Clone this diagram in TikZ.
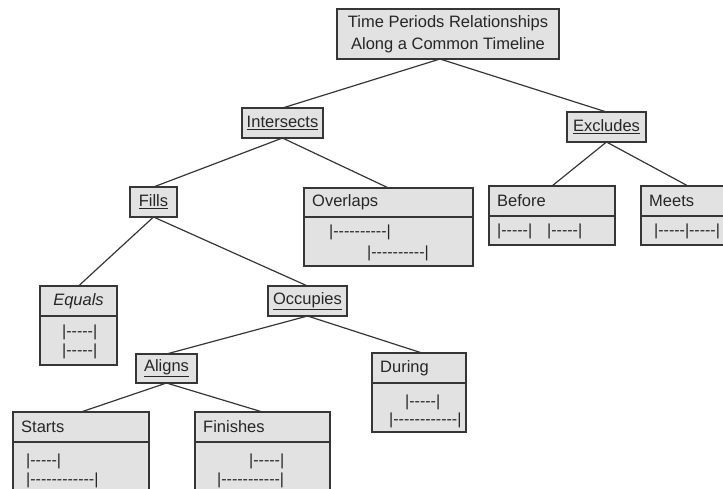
\documentclass[tikz,border=0pt]{standalone}
\usepackage{fontspec}
\setmainfont{Liberation Sans}
\newfontfamily\tlfont{Liberation Sans}[Ligatures=TeXOff]
\definecolor{boxfill}{HTML}{E2E2E2}
\definecolor{ink}{HTML}{262626}
\definecolor{edge}{HTML}{363636}
\tikzset{
  box/.style={draw=edge, fill=boxfill, line width=1.4pt, inner sep=0pt, outer sep=0pt, text=ink},
  conn/.style={draw=edge, line width=1.2pt},
  ttl/.style={anchor=west, inner sep=0pt, text=ink, font=\fontsize{16.5}{19}\selectfont},
  tl/.style={anchor=west, inner sep=0pt, text=ink, font=\tlfont\fontsize{16}{19}\selectfont},
  lbl/.style={inner sep=0pt, text=ink, font=\fontsize{16.5}{19}\selectfont}
}
\begin{document}
\begin{tikzpicture}[x=1pt,y=-1pt]
\useasboundingbox (0,0) rectangle (723,488);
\clip (0,0) rectangle (723,488);
% simple boxes
\node[box, minimum width=222pt, minimum height=50pt] (root) at (448,34) {};
\node[lbl, align=center, font=\fontsize{16.5}{22}\selectfont] (roott) at (448,34) {Time Periods Relationships\\Along a Common Timeline};
\node[box, minimum width=81pt, minimum height=30pt] (intersects) at (282.5,123) {};
\node[lbl] (intersectst) at (282.5,123) {\underline{Intersects}};
\node[box, minimum width=79pt, minimum height=30pt] (excludes) at (606.5,127) {};
\node[lbl] (excludest) at (606.5,127) {\underline{Excludes}};
\node[box, minimum width=47pt, minimum height=30pt] (fills) at (153.5,202) {};
\node[lbl] (fillst) at (153.5,202) {\underline{Fills}};
\node[box, minimum width=79pt, minimum height=30pt] (occupies) at (307.5,301) {};
\node[lbl] (occupiest) at (307.5,301) {\underline{Occupies}};
\node[box, minimum width=61pt, minimum height=29pt] (aligns) at (166.5,368.5) {};
\node[lbl] (alignst) at (166.5,368.5) {\underline{Aligns}};
% split boxes
\node[box, minimum width=169pt, minimum height=78pt] (overlaps) at (388.5,227) {};
\draw[edge, line width=1.4pt] (304,217) -- (473,217);
\node[ttl] (overlapst) at (312,202.5) {Overlaps};
\node[tl] (ov1) at (329,232) {|----------|};
\node[tl] (ov2) at (367,253) {|----------|};

\node[box, minimum width=126pt, minimum height=59pt] (before) at (552,215.5) {};
\draw[edge, line width=1.4pt] (489,216) -- (615,216);
\node[ttl] (beforet) at (497,201) {Before};
\node[tl] (be1) at (497,231) {|-----|};
\node[tl] (be2) at (547,231) {|-----|};

\node[box, minimum width=94pt, minimum height=59pt] (meets) at (688,215.5) {};
\draw[edge, line width=1.4pt] (641,216) -- (735,216);
\node[ttl] (meetst) at (649,201) {Meets};
\node[tl] (me1) at (654,231) {|-----|-----|};

\node[box, minimum width=77pt, minimum height=79pt] (equals) at (78.5,325.5) {};
\draw[edge, line width=1.4pt] (40,316) -- (117,316);
\node[lbl] (equalst) at (78.5,301) {\itshape Equals};
\node[tl] (eq1) at (62,332) {|-----|};
\node[tl] (eq2) at (62,351) {|-----|};

\node[box, minimum width=94pt, minimum height=79pt] (during) at (419,392.5) {};
\draw[edge, line width=1.4pt] (372,383) -- (466,383);
\node[ttl] (duringt) at (380,368) {During};
\node[tl] (du1) at (405,402) {|-----|};
\node[tl] (du2) at (389,420) {|------------|};

\node[box, minimum width=136pt, minimum height=88pt] (starts) at (81,456) {};
\draw[edge, line width=1.4pt] (13,442) -- (149,442);
\node[ttl] (startst) at (21,427) {Starts};
\node[tl] (st1) at (26,461) {|-----|};
\node[tl] (st2) at (26,480) {|------------|};

\node[box, minimum width=135pt, minimum height=88pt] (finishes) at (262.5,456) {};
\draw[edge, line width=1.4pt] (195,442) -- (330,442);
\node[ttl] (finishest) at (203,427) {Finishes};
\node[tl] (fi1) at (249,461) {|-----|};
\node[tl] (fi2) at (217,480) {|-----------|};
% connectors
\coordinate (rootb) at ([xshift=-8pt]root.south);
\draw[conn] (rootb) -- (intersects.north);
\draw[conn] (rootb) -- (excludes.north);
\draw[conn] (intersects.south) -- (fills.north);
\draw[conn] (intersects.south) -- (overlaps.north);
\draw[conn] (excludes.south) -- (before.north);
\draw[conn] (excludes.south) -- (meets.north);
\draw[conn] (fills.south) -- (equals.north);
\draw[conn] (fills.south) -- (occupies.north);
\draw[conn] (occupies.south) -- (aligns.north);
\draw[conn] (occupies.south) -- ([xshift=3pt]during.north);
\draw[conn] (aligns.south) -- (starts.north);
\draw[conn] (aligns.south) -- (finishes.north);
\end{tikzpicture}
\end{document}
